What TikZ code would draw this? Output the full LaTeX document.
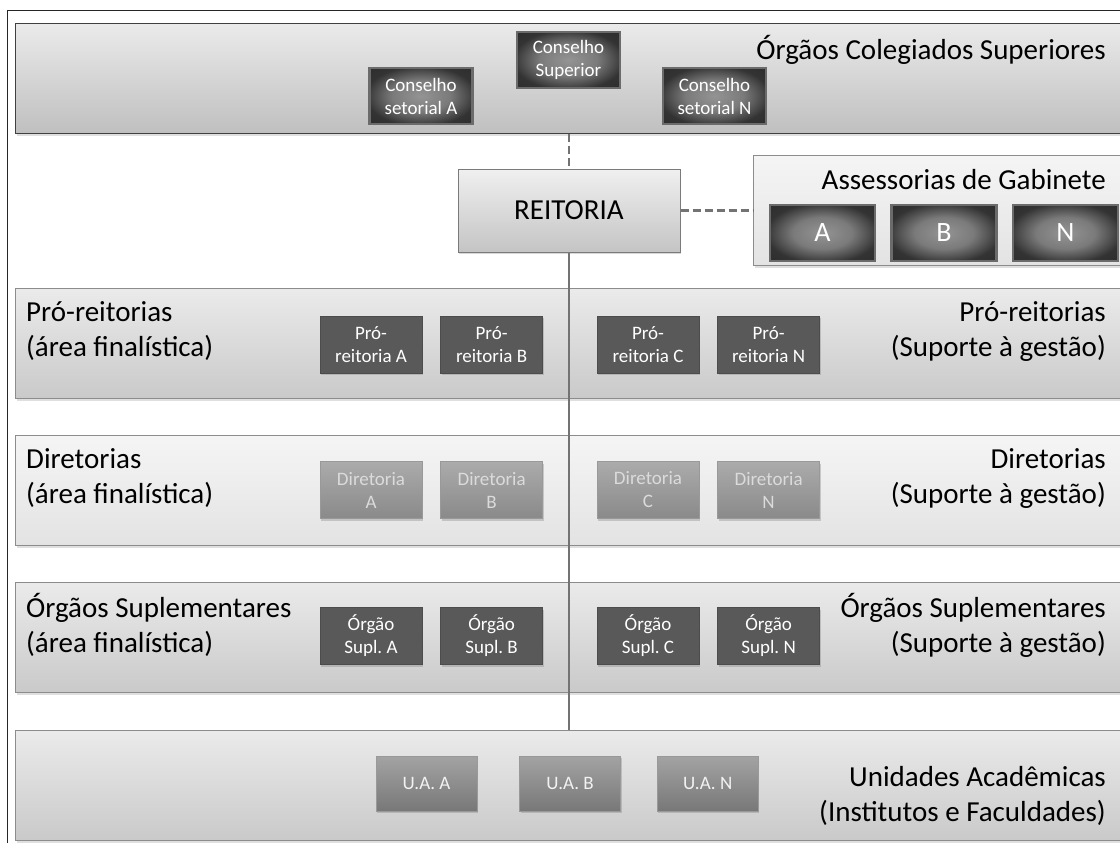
\documentclass[tikz,border=0pt]{standalone}
\usepackage{fontspec}
\setmainfont{Carlito}
\usetikzlibrary{positioning}
\usetikzlibrary{shadows}
\frenchspacing
\pgfdeclareradialshading{boxglow}{\pgfpoint{0bp}{0bp}}{color(0bp)=(black!42); color(14bp)=(black!52); color(27bp)=(black!80); color(50bp)=(black!86)}

\begin{document}
\begin{tikzpicture}[x=1pt, y=-1pt,
band/.style={rectangle, draw=black!45, line width=1.2pt, top color=black!8, bottom color=black!21, minimum width=1120pt, minimum height=110pt, inner sep=0pt, anchor=north west, drop shadow={opacity=0.25, shadow xshift=1pt, shadow yshift=-2pt}},
lightband/.style={band, top color=black!4, bottom color=black!11},
bandtext/.style={inner sep=0pt, font=\fontsize{29}{35}\selectfont},
darkbox/.style={rectangle, draw=black!58, line width=2.5pt, shading=boxglow, text=white, minimum width=103pt, minimum height=56pt, inner sep=0pt, align=center, font=\fontsize{19}{23}\selectfont},
gabbox/.style={darkbox, minimum width=105pt, font=\fontsize{28}{32}\selectfont},
probox/.style={rectangle, draw=black!70, line width=0.6pt, fill=black!65, text=white, minimum width=102pt, minimum height=57pt, inner sep=0pt, align=center, font=\fontsize{19}{23}\selectfont, drop shadow={opacity=0.35, shadow xshift=1pt, shadow yshift=-2pt}},
dirbox/.style={probox, draw=black!40, top color=black!33, bottom color=black!46, text=black!14},
uabox/.style={probox, draw=black!40, top color=black!36, bottom color=black!53, text=black!5, minimum width=101pt, minimum height=55pt},
reitbox/.style={rectangle, draw=black!52, line width=1pt, top color=black!6, bottom color=black!23, minimum width=222pt, minimum height=83pt, font=\fontsize{29}{35}\selectfont, drop shadow={opacity=0.3, shadow xshift=1pt, shadow yshift=-2pt}},
link/.style={draw=black!55, line width=2.5pt},
dashlink/.style={link, dash pattern=on 8pt off 4pt},
]

\clip (0,0) rectangle (1120,843);
\fill[white] (0,0) rectangle (1120,843);
\draw[black!85, line width=1pt] (7.5,860) -- (7.5,10.5) -- (1130,10.5);

\node[band, draw=black!75, bottom color=black!25] (colegiados) at (15,23) {};
\node[band] (pro) at (15,288) {};
\node[lightband] (dir) at (15,435) {};
\node[band] (sup) at (15,582) {};
\node[band] (ua) at (15,730) {};
\node[lightband, minimum width=380pt] (gabinete) at (753,155) {};

\node[bandtext, anchor=north east] (coltitle) at (1106,35) {Órgãos Colegiados Superiores};
\node[darkbox] (consup) at (568.5,60) {Conselho\\Superior};
\node[darkbox] (conseta) at (421,96) {Conselho\\setorial A};
\node[darkbox] (conseten) at (714.5,96) {Conselho\\setorial N};

\node[reitbox] (reitoria) at (569,210.5) {REITORIA};
\node[bandtext, anchor=north east] (gabtitle) at (1106,169) {Assessorias de Gabinete};
\node[gabbox] (gaba) at (822.5,233) {A};
\node[gabbox] (gabb) [right=14pt of gaba] {B};
\node[gabbox] (gabn) [right=14pt of gabb] {N};

\node[bandtext, align=left, anchor=north west] (profin) at (26,301) {Pró-reitorias\\(área finalística)};
\node[bandtext, align=right, anchor=north east] (proges) at (1106,301) {Pró-reitorias\\(Suporte à gestão)};
\node[probox] (proa) at (371,344.5) {Pró-\\reitoria A};
\node[probox] (prob) [right=18pt of proa] {Pró-\\reitoria B};
\node[probox] (proc) at (648,344.5) {Pró-\\reitoria C};
\node[probox] (pron) [right=18pt of proc] {Pró-\\reitoria N};

\node[bandtext, align=left, anchor=north west] (dirfin) at (26,448) {Diretorias\\(área finalística)};
\node[bandtext, align=right, anchor=north east] (dirges) at (1106,448) {Diretorias\\(Suporte à gestão)};
\node[dirbox] (dira) at (371,490) {Diretoria\\A};
\node[dirbox] (dirb) [right=18pt of dira] {Diretoria\\B};
\node[dirbox] (dirc) at (648,490) {Diretoria\\C};
\node[dirbox] (dirn) [right=18pt of dirc] {Diretoria\\N};

\node[bandtext, align=left, anchor=north west] (supfin) at (26,593) {Órgãos Suplementares\\(área finalística)};
\node[bandtext, align=right, anchor=north east] (supges) at (1106,593) {Órgãos Suplementares\\(Suporte à gestão)};
\node[probox] (supa) at (371,636) {Órgão\\Supl. A};
\node[probox] (supb) [right=18pt of supa] {Órgão\\Supl. B};
\node[probox] (supc) at (648,636) {Órgão\\Supl. C};
\node[probox] (supn) [right=18pt of supc] {Órgão\\Supl. N};

\node[bandtext, align=right, anchor=north east] (uatitle) at (1106,766) {Unidades Acadêmicas\\(Institutos e Faculdades)};
\node[uabox] (uaa) at (426.5,783.5) {U.A. A};
\node[uabox] (uab) [right=42pt of uaa] {U.A. B};
\node[uabox] (uan) [right=36pt of uab] {U.A. N};

\draw[dashlink] (colegiados.south -| reitoria.north) -- (reitoria.north);
\draw[dashlink] (reitoria.east) -- (reitoria.east -| gabinete.west);
\draw[link] (reitoria.south) -- (reitoria.south |- ua.north);
\end{tikzpicture}
\end{document}
